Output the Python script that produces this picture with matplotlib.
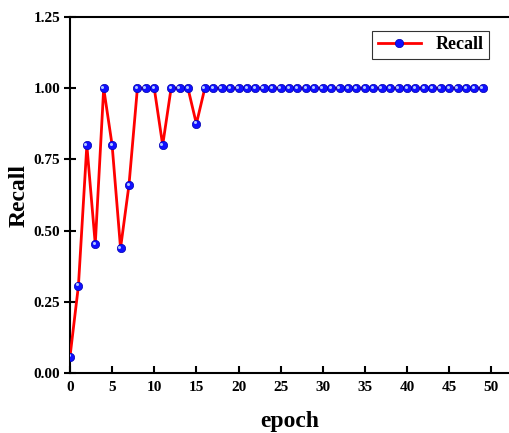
import numpy as np
import matplotlib
matplotlib.use('Agg')
import matplotlib.pyplot as plt
import matplotlib.transforms as mtransforms

# Данные
epochs = list(range(50))
recall = [0.057, 0.306, 0.80, 0.452, 1.0, 0.80, 0.438, 0.66, 1.0, 1.0,
          1.0, 0.80, 1.0, 1.0, 1.0, 0.875] + [1.0] * 34
x_ticks = [0, 5, 10, 15, 20, 25, 30, 35, 40, 45, 50]
y_ticks = [0.00, 0.25, 0.50, 0.75, 1.00, 1.25]

plt.rcParams['font.family'] = ['Liberation Serif', 'DejaVu Serif']
plt.rcParams['font.weight'] = 'bold'

fig = plt.figure(figsize=(5.09, 4.33), dpi=100)
ax = fig.add_axes([0.1375, 0.1386, 0.8625, 0.8221])

# Линия и маркеры
ax.plot(epochs, recall, color='red', lw=2, marker='o', markersize=6,
        markerfacecolor='#1010ff', markeredgecolor='#0000b0', markeredgewidth=0.5,
        label='Recall', zorder=3)
# блик на шариках
offset = mtransforms.offset_copy(ax.transData, fig=fig, x=-1.0, y=1.0, units='points')
ax.plot(epochs, recall, ls='none', marker='o', markersize=2.2,
        markerfacecolor='#b0c8ff', markeredgecolor='none', transform=offset, zorder=4)

ax.set_xlim(0, 52.1)
ax.set_ylim(0, 1.25)
ax.set_xticks(x_ticks)
ax.set_yticks(y_ticks)
ax.set_yticklabels(['%.2f' % v for v in y_ticks])

ax.spines['right'].set_visible(False)
for s in ['left', 'bottom', 'top']:
    ax.spines[s].set_linewidth(1.5)
ax.tick_params(axis='x', direction='in', length=5, width=1.5, labelsize=11, pad=6)
ax.tick_params(axis='y', direction='inout', length=8, width=1.5, labelsize=11, pad=3)
for lab in ax.get_xticklabels() + ax.get_yticklabels():
    lab.set_fontweight('bold')

ax.set_xlabel('epoch', fontsize=17, fontweight='bold', labelpad=12)
ax.set_ylabel('Recall', fontsize=17, fontweight='bold', labelpad=3)

leg = ax.legend(loc='upper right', bbox_to_anchor=(0.954, 0.961), borderaxespad=0,
                fontsize=13, frameon=True, fancybox=False, edgecolor='black',
                handlelength=2.4, borderpad=0.3)
leg.get_frame().set_linewidth(0.8)
for t in leg.get_texts():
    t.set_fontweight('bold')

fig.savefig('out.png', dpi=100)
